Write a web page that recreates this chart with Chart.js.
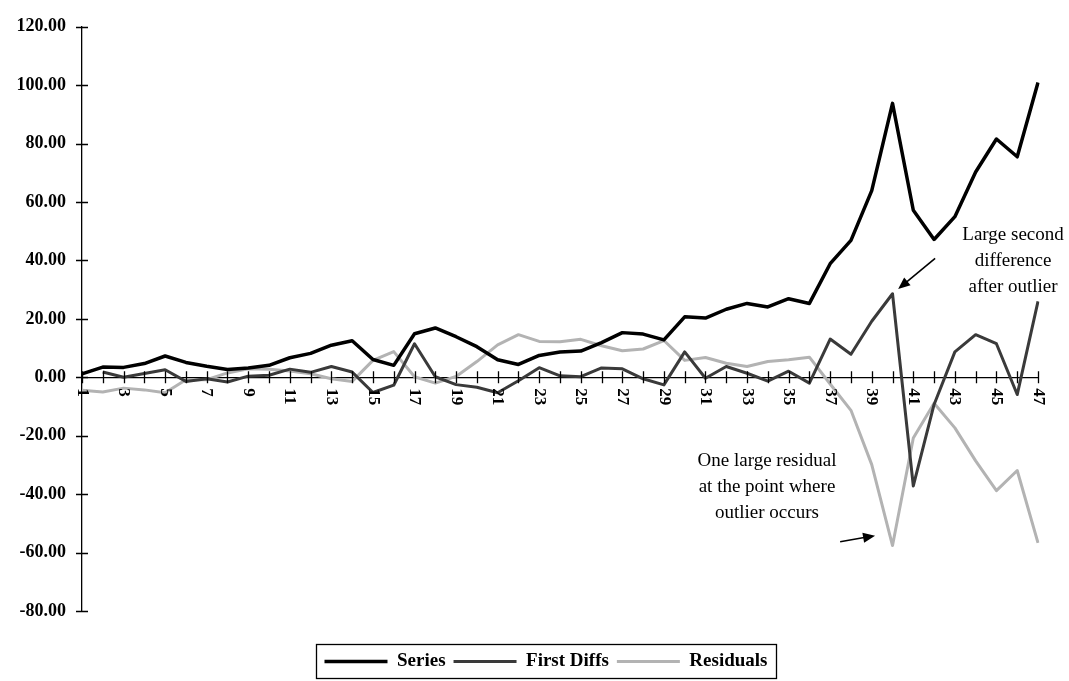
<!DOCTYPE html>
<html>
<head>
<meta charset="utf-8">
<script src="https://cdn.jsdelivr.net/npm/chart.js@4.4.1/dist/chart.umd.min.js"></script>
<style>
  html, body { margin: 0; padding: 0; background: #fff; }
</style>
</head>
<body>
<canvas id="myChart" width="1069" height="681"></canvas>
<script>
const labels = ["1", "2", "3", "4", "5", "6", "7", "8", "9", "10", "11", "12", "13", "14", "15", "16",
  "17", "18", "19", "20", "21", "22", "23", "24", "25", "26", "27", "28", "29", "30", "31", "32",
  "33", "34", "35", "36", "37", "38", "39", "40", "41", "42", "43", "44", "45", "46", "47"];
// only the odd categories carry a label
const xTickLabels = ["1", "3", "5", "7", "9", "11", "13", "15", "17", "19", "21", "23", "25", "27",
  "29", "31", "33", "35", "37", "39", "41", "43", "45", "47"];

const series = [1.2, 3.5, 3.4, 4.7, 7.3, 5.1, 3.8, 2.7, 3.2, 4.1, 6.7, 8.2, 11.0, 12.5, 6.1, 4.1,
  14.9, 16.9, 13.9, 10.5, 6.0, 4.4, 7.5, 8.7, 9.0, 11.9, 15.3, 14.8, 12.8, 20.7, 20.3, 23.3,
  25.3, 24.1, 26.9, 25.3, 38.9, 46.9, 63.9, 93.8, 57.2, 47.2, 55.0, 70.3, 81.6, 75.5, 100.9];
const firstDiffs = [null, 1.8, 0.0, 1.3, 2.6, -1.4, -0.5, -1.6, 0.4, 0.7, 2.8, 1.7, 3.7, 1.8, -5.2, -2.7,
  11.5, 0.2, -2.5, -3.4, -5.3, -1.2, 3.3, 0.5, 0.2, 3.2, 2.9, -0.5, -2.6, 8.7, -0.3, 3.7,
  1.4, -1.3, 2.1, -2.0, 13.1, 7.9, 19.2, 28.6, -37.2, -9.3, 8.7, 14.6, 11.5, -5.9, 26.0];
const residuals = [-4.4, -5.0, -3.7, -4.3, -5.3, -0.8, -0.8, 1.5, 2.9, 2.8, 2.2, 1.2, -0.5, -1.4, 5.8, 8.8,
  0.2, -2.0, 0.3, 5.4, 11.1, 14.6, 12.3, 12.2, 13.0, 10.8, 9.1, 9.7, 12.6, 5.8, 6.8, 4.8,
  3.7, 5.4, 6.0, 6.9, -2.3, -11.3, -29.9, -57.6, -20.8, -8.9, -17.3, -28.6, -38.8, -31.9, -56.7];

const Y_MIN = -80;
const Y_MAX = 120;
const Y_STEP = 20;

// callouts, placed in data space (category index, value)
const notes = [
  { lines: ["Large second", "difference", "after outlier"], x: 44.8, y: 47.1 },
  { lines: ["One large residual", "at the point where", "outlier occurs"], x: 32.96, y: -30.5 },
];
const arrows = [
  { from: [41.05, 40.7], to: [39.27, 30.2] },
  { from: [36.48, -56.3], to: [38.16, -54.2] },
];

const SERIF = "'Liberation Serif', 'Times New Roman', serif";

const decor = {
  id: "decor",
  afterLayout(chart) {
    // nudge the legend to where it sits in the original
    const lg = chart.legend;
    lg.left += 27; lg.right += 27;
    lg.top += 33; lg.bottom += 33;
  },
  afterDraw(chart) {
    const ctx = chart.ctx;
    const xs = chart.scales.x;
    const ys = chart.scales.y;
    const y0 = ys.getPixelForValue(0);
    const left = chart.chartArea.left;

    ctx.save();
    ctx.strokeStyle = "#000";
    ctx.lineWidth = 1.3;
    // tick marks crossing the axes
    ctx.beginPath();
    labels.forEach((l, i) => {
      const px = Math.round(xs.getPixelForValue(i)) + 0.5;
      ctx.moveTo(px, y0 - 6);
      ctx.lineTo(px, y0 + 6);
    });
    ys.ticks.forEach((t) => {
      const py = Math.round(ys.getPixelForValue(t.value)) + 0.5;
      ctx.moveTo(left - 6, py);
      ctx.lineTo(left + 6, py);
    });
    ctx.stroke();

    // rotated category labels
    ctx.fillStyle = "#000";
    ctx.font = "bold 17px " + SERIF;
    ctx.textAlign = "left";
    ctx.textBaseline = "middle";
    xTickLabels.forEach((l) => {
      const px = xs.getPixelForValue(labels.indexOf(l));
      ctx.save();
      ctx.translate(px, y0 + 11);
      ctx.rotate(Math.PI / 2);
      ctx.fillText(l, 0, 0);
      ctx.restore();
    });

    // callout text
    ctx.font = "19px " + SERIF;
    ctx.textAlign = "center";
    ctx.textBaseline = "alphabetic";
    notes.forEach((n) => {
      const px = xs.getPixelForValue(n.x);
      const py = ys.getPixelForValue(n.y);
      n.lines.forEach((t, k) => ctx.fillText(t, px, py + k * 26));
    });

    // arrows
    arrows.forEach((a) => {
      const fx = xs.getPixelForValue(a.from[0]), fy = ys.getPixelForValue(a.from[1]);
      const tx = xs.getPixelForValue(a.to[0]), ty = ys.getPixelForValue(a.to[1]);
      const ang = Math.atan2(ty - fy, tx - fx);
      const head = 12;
      ctx.lineWidth = 1.6;
      ctx.beginPath();
      ctx.moveTo(fx, fy);
      ctx.lineTo(tx - head * 0.8 * Math.cos(ang), ty - head * 0.8 * Math.sin(ang));
      ctx.stroke();
      ctx.beginPath();
      ctx.moveTo(tx, ty);
      ctx.lineTo(tx - head * Math.cos(ang) + 5 * Math.sin(ang), ty - head * Math.sin(ang) - 5 * Math.cos(ang));
      ctx.lineTo(tx - head * Math.cos(ang) - 5 * Math.sin(ang), ty - head * Math.sin(ang) + 5 * Math.cos(ang));
      ctx.closePath();
      ctx.fill();
    });

    // frame round the legend
    const hb = chart.legend.legendHitBoxes;
    if (hb && hb.length) {
      const l = Math.min(...hb.map((h) => h.left)) - 8;
      const r = Math.max(...hb.map((h) => h.left + h.width)) + 9;
      const t = hb[0].top - 8;
      const b = hb[0].top + hb[0].height + 7;
      ctx.lineWidth = 1.3;
      ctx.strokeRect(Math.round(l) + 0.5, Math.round(t) + 0.5, Math.round(r - l), Math.round(b - t));
    }
    ctx.restore();
  },
};

const ctx = document.getElementById("myChart");

const myChart = new Chart(ctx, {
  type: "line",
  data: {
    labels: labels,
    datasets: [
      {
        label: "Series",
        data: series,
        borderColor: "#000",
        backgroundColor: "#000",
        borderWidth: 3.5,
      },
      {
        label: "First Diffs",
        data: firstDiffs,
        borderColor: "#3a3a3a",
        backgroundColor: "#3a3a3a",
        borderWidth: 3,
      },
      {
        label: "Residuals",
        data: residuals,
        borderColor: "#b3b3b3",
        backgroundColor: "#b3b3b3",
        borderWidth: 3,
      },
    ],
  },
  options: {
    responsive: false,
    animation: false,
    elements: {
      point: { radius: 0 },
      line: { tension: 0, borderJoinStyle: "round" },
    },
    layout: { padding: { left: 0, right: 31, top: 22, bottom: 33 } },
    plugins: {
      legend: {
        position: "bottom",
        labels: {
          usePointStyle: true,
          pointStyle: "line",
          pointStyleWidth: 63,
          padding: 8,
          color: "#000",
          font: { family: SERIF, size: 19, weight: "bold" },
        },
      },
      tooltip: { enabled: false },
    },
    scales: {
      x: {
        type: "category",
        position: { y: 0 },
        offset: false,
        grid: { display: false },
        border: { color: "#000", width: 1.3 },
        ticks: { display: false, autoSkip: false },
      },
      y: {
        min: Y_MIN,
        max: Y_MAX,
        grid: { display: false, drawTicks: false },
        border: { color: "#000", width: 1.3 },
        ticks: {
          stepSize: Y_STEP,
          padding: 16,
          color: "#000",
          font: { family: SERIF, size: 18, weight: "bold" },
          callback: (v) => v.toFixed(2),
        },
        afterFit(scale) {
          scale.width = 82;
        },
      },
    },
  },
  plugins: [decor],
});
</script>
</body>
</html>
